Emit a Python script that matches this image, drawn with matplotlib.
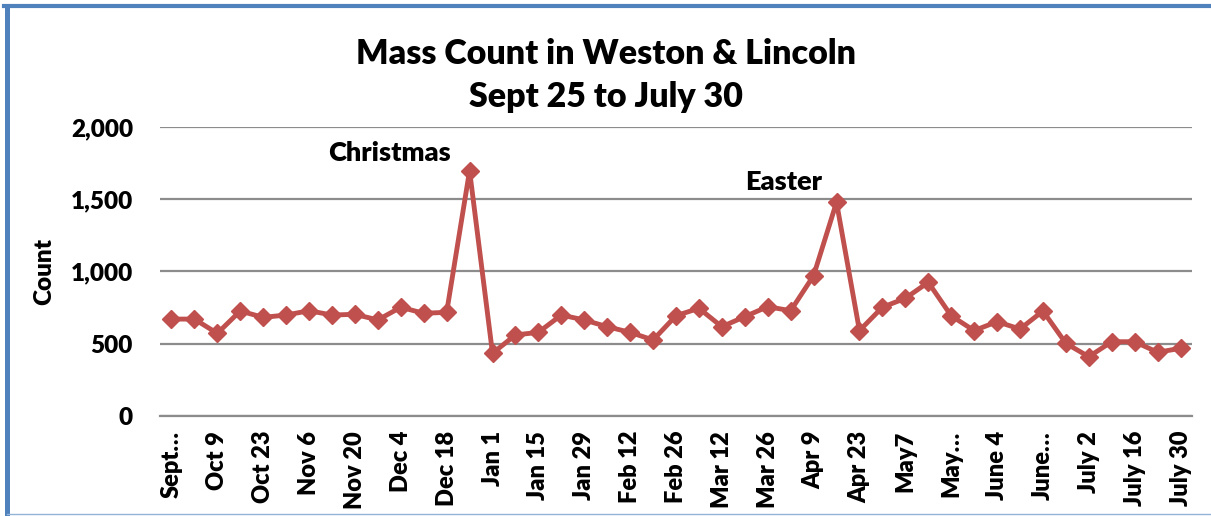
import matplotlib.pyplot as plt
from matplotlib.lines import Line2D

# weekly mass counts, Sept 25 .. July 30
counts = [
    670, 670, 571, 726, 682, 698, 728, 698, 703, 664, 752, 710, 717, 1699, 433,
    560, 578, 698, 664, 617, 578, 525, 693, 745, 617, 687, 756, 728, 971, 1480,
    590, 752, 814, 925, 693, 590, 652, 601, 726, 502, 409, 513, 513, 440, 467,
]
tick_labels = [
    "Sept\u2026", "Oct 9", "Oct 23", "Nov 6", "Nov 20", "Dec 4", "Dec 18",
    "Jan 1", "Jan 15", "Jan 29", "Feb 12", "Feb 26", "Mar 12", "Mar 26",
    "Apr 9", "Apr 23", "May7", "May\u2026", "June 4", "June\u2026", "July 2",
    "July 16", "July 30",
]
y_ticks = [0, 500, 1000, 1500, 2000]
notes = {"Christmas": 13, "Easter": 29}

LINE_RED = "#C0504D"
GRID = "#8C8C8C"
FONT = "Lato"
WEIGHT = "heavy"

plt.rcParams["font.family"] = [FONT, "DejaVu Sans"]
plt.rcParams["font.weight"] = WEIGHT

fig = plt.figure(figsize=(12.11, 5.16), dpi=100)
ax = fig.add_axes([0.1321, 0.1944, 0.8522, 0.5589])

xs = list(range(len(counts)))
ax.plot(xs, counts, color=LINE_RED, lw=3.5, marker="D", markersize=9,
        markerfacecolor=LINE_RED, markeredgecolor=LINE_RED, zorder=3)

ax.set_xlim(-0.5, len(counts) - 0.5)
ax.set_ylim(0, 2000)
ax.set_yticks(y_ticks)
ax.set_yticklabels([f"{v:,}" for v in y_ticks], fontsize=17.5, fontweight=WEIGHT)
ax.set_xticks(xs[::2])
ax.set_xticklabels(tick_labels, rotation=90, fontsize=17, fontweight=WEIGHT)
ax.tick_params(axis="both", length=0)
ax.tick_params(axis="y", pad=19.5)
ax.tick_params(axis="x", pad=11)
ax.grid(axis="y", color=GRID, lw=1.6)
ax.set_axisbelow(True)
for side in ["left", "right", "top"]:
    ax.spines[side].set_visible(False)
ax.spines["bottom"].set_color(GRID)
ax.spines["bottom"].set_linewidth(1.6)

ax.set_ylabel("Count", fontsize=17.5, fontweight=WEIGHT, labelpad=11)

# holiday labels above the peaks
ax.annotate("Christmas", (notes["Christmas"], counts[notes["Christmas"]]),
            xytext=(-80, 10), textcoords="offset pixels", ha="center",
            va="baseline", fontsize=19.5, fontweight=WEIGHT)
ax.annotate("Easter", (notes["Easter"], counts[notes["Easter"]]),
            xytext=(-53, 12), textcoords="offset pixels", ha="center",
            va="baseline", fontsize=19.5, fontweight=WEIGHT)

fig.text(0.5, 0.876, "Mass Count in Weston & Lincoln", ha="center",
         va="baseline", fontsize=24.5, fontweight=WEIGHT)
fig.text(0.5, 0.7926, "Sept 25 to July 30", ha="center", va="baseline",
         fontsize=24.5, fontweight=WEIGHT)

# chart frame (only left/top/bottom visible in the crop)
fig.add_artist(Line2D([0.0054, 0.0054], [0, 0.9884], transform=fig.transFigure,
                      color="#4F81BD", lw=3.6))
fig.add_artist(Line2D([0.0035, 1.0], [0.9884, 0.9884], transform=fig.transFigure,
                      color="#4F81BD", lw=3.0))
fig.add_artist(Line2D([0.0054, 1.0], [0.003, 0.003], transform=fig.transFigure,
                      color="#95B3D7", lw=1.0))

fig.savefig("out.png", dpi=100)
